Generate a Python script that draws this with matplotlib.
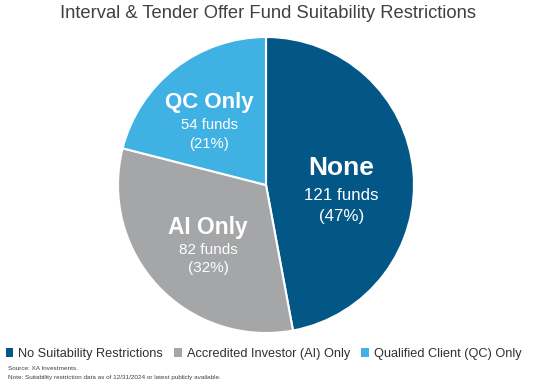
import matplotlib
matplotlib.use("Agg")
import matplotlib.pyplot as plt
from matplotlib.patches import Patch

plt.rcParams['font.family'] = ['Liberation Sans', 'DejaVu Sans']

# data
cats = ['None', 'AI Only', 'QC Only']
funds = [121, 82, 54]
pcts = ['47%', '32%', '21%']
legend_names = ['No Suitability Restrictions', 'Accredited Investor (AI) Only',
                'Qualified Client (QC) Only']
colors = ['#035787', '#A5A6A8', '#3FB1E3']

W, H = 537, 389
fig = plt.figure(figsize=(W / 100, H / 100), dpi=100)

# pie centre (266,185) px, radius 148 px
cx, cy, r = 266, 185, 148
ax = fig.add_axes([(cx - r) / W, (H - cy - r) / H, 2 * r / W, 2 * r / H])
ax.pie(funds, colors=colors, startangle=90, counterclock=False,
       wedgeprops=dict(edgecolor='white', linewidth=1.5))
ax.set_xlim(-1, 1)
ax.set_ylim(-1, 1)
ax.set_aspect('equal')

# label anchor (x, y), sizes and line gaps per slice
lab_pos = [(0.51, 0.115), (-0.39, -0.284), (-0.385, 0.56)]
lab_size = [19, 16.4, 16]
sub_size = [12.2, 11, 10.7]
gaps = [(0.183, 0.325), (0.155, 0.277), (0.155, 0.285)]
for i in range(len(cats)):
    x, y = lab_pos[i]
    ax.text(x, y, cats[i], color='white', fontsize=lab_size[i], fontweight='bold',
            ha='center', va='center')
    ax.text(x, y - gaps[i][0], f'{funds[i]} funds', color='white', fontsize=sub_size[i],
            ha='center', va='center')
    ax.text(x, y - gaps[i][1], f'({pcts[i]})', color='white', fontsize=sub_size[i],
            ha='center', va='center')

fig.text(0.5, 1 - 14 / H, 'Interval & Tender Offer Fund Suitability Restrictions',
         ha='center', va='center', fontsize=13.2, color='#404040')

handles = [Patch(facecolor=c, edgecolor='none') for c in colors]
fig.legend(handles, legend_names, loc='center left', bbox_to_anchor=(3 / W, 1 - 354 / H),
           ncol=3, frameon=False, fontsize=9.2, handlelength=0.6, handleheight=0.6,
           handletextpad=0.4, columnspacing=0.85, labelcolor='#303030', borderaxespad=0,
           borderpad=0.2)

fig.text(8 / W, 1 - 369 / H, 'Source: XA Investments.', fontsize=4.6, color='#404040',
         va='center')
fig.text(8 / W, 1 - 378 / H, 'Note: Suitability restriction data as of 12/31/2024 or latest publicly available.',
         fontsize=4.6, color='#404040', va='center')

fig.savefig('out.png', dpi=100)
